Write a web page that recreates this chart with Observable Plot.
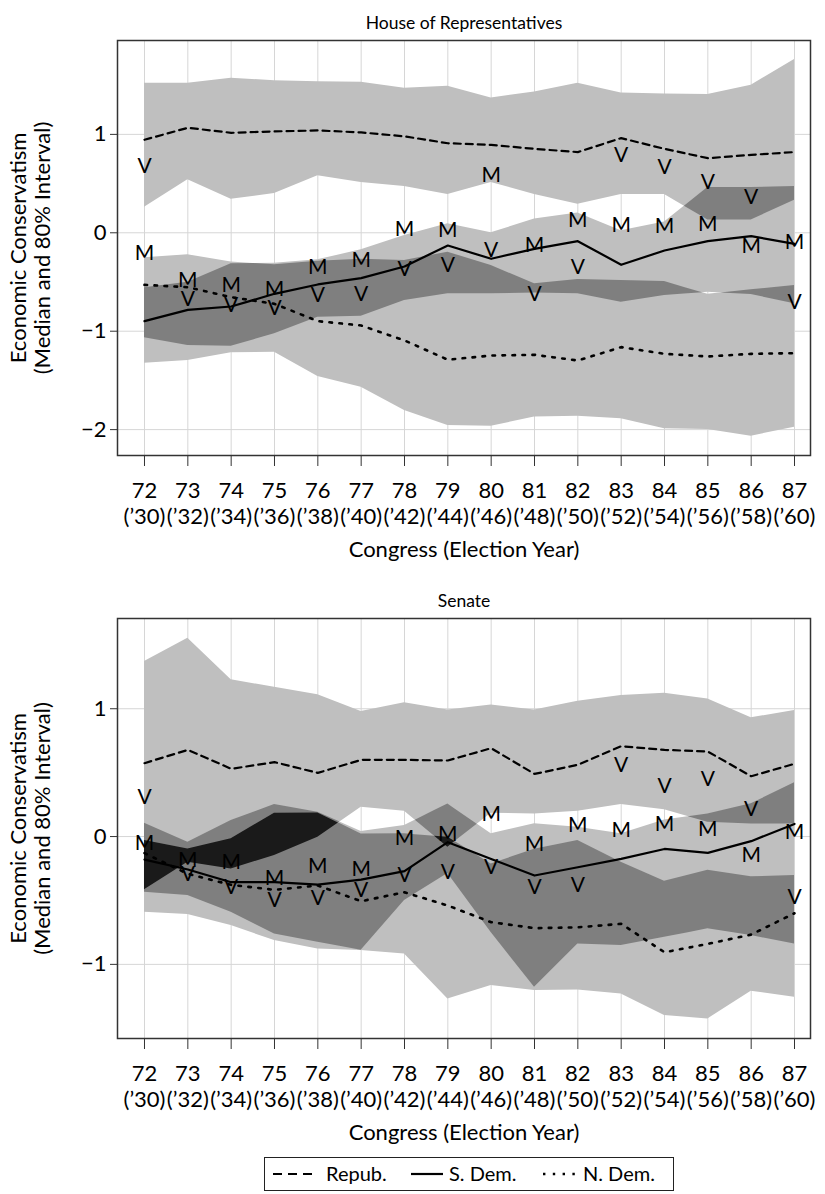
<!DOCTYPE html>
<html>
<head>
<meta charset="utf-8">
<script src="https://cdn.jsdelivr.net/npm/d3@7"></script>
<script src="https://cdn.jsdelivr.net/npm/@observablehq/plot@0.6"></script>
<style>
  html, body { margin: 0; padding: 0; background: #fff; }
  body { width: 825px; height: 1194px; overflow: hidden; position: relative; font-family: Lato, sans-serif; }
  #house, #senate { display: block; line-height: 0; }
  #legend { position: absolute; left: 264px; top: 1157px; width: 410px; height: 34px; border: 1.5px solid #222; box-sizing: border-box; }
  #legend .item { position: absolute; top: 0; height: 31px; line-height: 31px; font-size: 20px; color: #000; white-space: nowrap; }
  #legend svg { position: absolute; top: 0; }
</style>
</head>
<body>
<div id="house"></div>
<div id="senate"></div>
<div id="legend"></div>
<script>
// Congresses and their election years
const congresses = [72, 73, 74, 75, 76, 77, 78, 79, 80, 81, 82, 83, 84, 85, 86, 87];
const electionYears = ["’30", "’32", "’34", "’36", "’38", "’40", "’42", "’44", "’46", "’48", "’50", "’52", "’54", "’56", "’58", "’60"];

// House of Representatives: 80% interval bounds and medians
const houseRepHi  = [1.52, 1.52, 1.57, 1.545, 1.535, 1.53, 1.47, 1.49, 1.37, 1.43, 1.52, 1.42, 1.41, 1.405, 1.50, 1.76];
const houseRepLo  = [0.26, 0.54, 0.34, 0.40, 0.58, 0.51, 0.47, 0.39, 0.51, 0.39, 0.29, 0.39, 0.39, 0.13, 0.13, 0.33];
const houseRepMed = [0.945, 1.067, 1.016, 1.03, 1.04, 1.02, 0.98, 0.91, 0.893, 0.853, 0.82, 0.962, 0.853, 0.758, 0.792, 0.82];

const houseSDemHi  = [-0.559, -0.502, -0.315, -0.31, -0.275, -0.173, -0.027, 0.091, 0.0, 0.14, 0.20, 0.02, 0.11, 0.46, 0.46, 0.47];
const houseSDemLo  = [-1.067, -1.145, -1.152, -1.027, -0.857, -0.847, -0.688, -0.62, -0.62, -0.613, -0.62, -0.705, -0.637, -0.605, -0.627, -0.722];
const houseSDemMed = [-0.898, -0.783, -0.749, -0.62, -0.525, -0.461, -0.342, -0.129, -0.264, -0.163, -0.085, -0.325, -0.18, -0.085, -0.034, -0.112];

const houseNDemHi  = [-0.254, -0.224, -0.298, -0.325, -0.288, -0.268, -0.281, -0.197, -0.332, -0.518, -0.475, -0.484, -0.495, -0.625, -0.58, -0.535];
const houseNDemLo  = [-1.325, -1.298, -1.22, -1.213, -1.46, -1.569, -1.805, -1.958, -1.965, -1.873, -1.863, -1.89, -1.99, -2.0, -2.067, -1.975];
const houseNDemMed = [-0.529, -0.553, -0.654, -0.722, -0.898, -0.942, -1.094, -1.29, -1.247, -1.24, -1.298, -1.162, -1.23, -1.257, -1.23, -1.223];

// House: positions of the "M" and "V" markers
const houseM = [-0.213, -0.485, -0.536, -0.57, -0.35, -0.281, 0.04, 0.03, 0.582, -0.129, 0.125, 0.074, 0.064, 0.084, -0.139, -0.095];
const houseV = [0.674, -0.68, -0.739, -0.762, -0.637, -0.62, -0.366, -0.332, -0.18, -0.62, -0.35, 0.786, 0.667, 0.514, 0.356, -0.705];

// Senate: 80% interval bounds and medians
const senateRepHi  = [1.369, 1.552, 1.226, 1.168, 1.109, 0.978, 1.046, 0.991, 1.030, 0.991, 1.059, 1.103, 1.121, 1.077, 0.929, 0.986];
const senateRepLo  = [-0.417, -0.201, -0.253, -0.149, -0.005, 0.23, 0.198, -0.083, 0.182, 0.177, 0.198, 0.25, 0.209, 0.112, 0.099, 0.099];
const senateRepMed = [0.574, 0.678, 0.530, 0.582, 0.498, 0.6, 0.6, 0.595, 0.691, 0.49, 0.561, 0.707, 0.678, 0.665, 0.472, 0.569];

const senateSDemHi  = [0.104, -0.044, 0.125, 0.25, 0.19, 0.04, 0.086, 0.255, 0.021, 0.10, 0.073, 0.021, 0.13, 0.177, 0.256, 0.42];
const senateSDemLo  = [-0.436, -0.462, -0.592, -0.762, -0.827, -0.89, -0.50, -0.29, -0.75, -1.18, -0.84, -0.853, -0.788, -0.722, -0.775, -0.84];
const senateSDemMed = [-0.18, -0.258, -0.357, -0.357, -0.376, -0.337, -0.271, -0.044, -0.175, -0.305, -0.24, -0.175, -0.097, -0.128, -0.036, 0.099];

const senateNDemHi  = [-0.031, -0.097, -0.018, 0.183, 0.185, 0.02, 0.021, -0.005, -0.214, -0.1, -0.031, -0.201, -0.35, -0.263, -0.315, -0.305];
const senateNDemLo  = [-0.592, -0.61, -0.696, -0.814, -0.879, -0.892, -0.918, -1.27, -1.166, -1.205, -1.2, -1.231, -1.40, -1.427, -1.21, -1.257];
const senateNDemMed = [-0.13, -0.292, -0.378, -0.417, -0.383, -0.506, -0.436, -0.54, -0.67, -0.717, -0.71, -0.683, -0.905, -0.84, -0.767, -0.6];

// Senate: positions of the "M" and "V" markers
const senateM = [-0.05, -0.188, -0.201, -0.323, -0.235, -0.253, -0.01, 0.021, 0.172, -0.057, 0.086, 0.052, 0.099, 0.06, -0.149, 0.034];
const senateV = [0.308, -0.292, -0.397, -0.50, -0.48, -0.423, -0.305, -0.279, -0.24, -0.397, -0.383, 0.556, 0.391, 0.451, 0.217, -0.475];

// Shades: one interval, two overlapping, all three overlapping
const shadeOne = "#bfbfbf", shadeTwo = "#7f7f7f", shadeThree = "#1a1a1a";
const FONT = "Lato, 'Open Sans', sans-serif";

// Split each segment between congresses wherever two band edges cross,
// so that the max/min of the edges stay linear between the breakpoints.
function breakpoints(xs, edges) {
  const pts = [];
  for (let i = 0; i < xs.length - 1; i++) {
    const ts = new Set([0]);
    for (let a = 0; a < edges.length; a++) {
      for (let b = a + 1; b < edges.length; b++) {
        const d0 = edges[a][i] - edges[b][i];
        const d1 = edges[a][i + 1] - edges[b][i + 1];
        if (d0 * d1 < 0) ts.add(d0 / (d0 - d1));
      }
    }
    [...ts].sort((p, q) => p - q).forEach(t => pts.push([i, t]));
  }
  pts.push([xs.length - 2, 1]);
  return pts;
}
const lerp = (arr, [i, t]) => arr[i] + (arr[i + 1] - arr[i]) * t;

// Region shared by all of the given intervals (zero height where they do not meet)
function intersection(xs, bands, grid) {
  return grid.map(g => {
    const y1 = d3.max(bands, b => lerp(b.lo, g));
    const top = d3.min(bands, b => lerp(b.hi, g));
    return {x: lerp(xs, g), y1, y2: Math.max(y1, top)};
  });
}

const formatTick = d => (d < 0 ? "\u2212" : "") + Math.abs(d);

function panel({title, bands, medians, mPos, vPos, yDomain, yTicks, height, marginBottom}) {
  const grid = breakpoints(congresses, bands.flatMap(b => [b.lo, b.hi]));
  const pairs = [[0, 1], [0, 2], [1, 2]];
  const lineStyles = [
    {strokeDasharray: "7,5", strokeWidth: 2.2},
    {strokeWidth: 2.2},
    {strokeDasharray: "2.6,7.4", strokeWidth: 2.6}
  ];
  return Plot.plot({
    width: 825,
    height,
    marginLeft: 117,
    marginRight: 15,
    marginTop: 40,
    marginBottom,
    style: {fontFamily: FONT, fontSize: "22px", color: "#000", background: "#fff", overflow: "visible"},
    x: {domain: [71.377, 87.369]},
    y: {domain: yDomain},
    marks: [
      Plot.gridX(congresses, {stroke: "#d6d6d6", strokeOpacity: 1, strokeWidth: 1}),
      Plot.gridY(yTicks, {stroke: "#d6d6d6", strokeOpacity: 1, strokeWidth: 1}),
      ...bands.map(b => Plot.areaY(congresses, {x: congresses, y1: b.lo, y2: b.hi, fill: shadeOne})),
      ...pairs.map(([a, b]) => Plot.areaY(intersection(congresses, [bands[a], bands[b]], grid),
        {x: "x", y1: "y1", y2: "y2", fill: shadeTwo})),
      Plot.areaY(intersection(congresses, bands, grid), {x: "x", y1: "y1", y2: "y2", fill: shadeThree}),
      ...medians.map((m, k) => Plot.line(congresses, {x: congresses, y: m, stroke: "#000", ...lineStyles[k]})),
      Plot.text(congresses, {x: congresses, y: mPos, text: () => "M", fontSize: 21, fill: "#000"}),
      Plot.text(congresses, {x: congresses, y: vPos, text: () => "V", fontSize: 21, fill: "#000"}),
      Plot.frame({stroke: "#333", strokeWidth: 1.5}),
      Plot.axisY(yTicks, {tickSize: 7, tickPadding: 4, fontSize: 22, label: null, stroke: "#333", tickFormat: formatTick}),
      Plot.axisX(congresses, {tickSize: 11, tickFormat: () => "", label: null, stroke: "#333"}),
      Plot.text(congresses, {x: congresses, text: d => String(d), frameAnchor: "bottom", dy: 42, fontSize: 22}),
      Plot.text(congresses, {x: congresses, text: (d, i) => "(" + electionYears[i] + ")", frameAnchor: "bottom", dy: 68, fontSize: 22}),
      Plot.text(["Congress (Election Year)"], {frameAnchor: "bottom", dy: 101, fontSize: 22}),
      Plot.text(["Economic Conservatism\n(Median and 80% Interval)"], {frameAnchor: "left", textAnchor: "middle", dx: -87, rotate: -90, fontSize: 22, lineHeight: 1.1}),
      Plot.text([title], {frameAnchor: "top", dy: -24, fontSize: 17.5})
    ]
  });
}

document.getElementById("house").append(panel({
  title: "House of Representatives",
  bands: [
    {lo: houseRepLo, hi: houseRepHi},
    {lo: houseSDemLo, hi: houseSDemHi},
    {lo: houseNDemLo, hi: houseNDemHi}
  ],
  medians: [houseRepMed, houseSDemMed, houseNDemMed],
  mPos: houseM,
  vPos: houseV,
  yDomain: [-2.263, 1.954],
  yTicks: [1, 0, -1, -2],
  height: 578,
  marginBottom: 123
}));

document.getElementById("senate").append(panel({
  title: "Senate",
  bands: [
    {lo: senateRepLo, hi: senateRepHi},
    {lo: senateSDemLo, hi: senateSDemHi},
    {lo: senateNDemLo, hi: senateNDemHi}
  ],
  medians: [senateRepMed, senateSDemMed, senateNDemMed],
  mPos: senateM,
  vPos: senateV,
  yDomain: [-1.580, 1.706],
  yTicks: [1, 0, -1],
  height: 572,
  marginBottom: 112
}));

// Legend: line samples and party names
const legendItems = [
  {name: "Repub.", dash: "9,6", width: 2.2, x: 8, len: 39, tx: 61},
  {name: "S. Dem.", dash: null, width: 2.2, x: 146, len: 32, tx: 184},
  {name: "N. Dem.", dash: "2.4,7.4", width: 2.4, x: 278, len: 32, tx: 318}
];
const legend = document.getElementById("legend");
for (const it of legendItems) {
  const ns = "http://www.w3.org/2000/svg";
  const svg = document.createElementNS(ns, "svg");
  svg.setAttribute("width", it.len);
  svg.setAttribute("height", 31);
  svg.style.left = it.x + "px";
  const ln = document.createElementNS(ns, "line");
  ln.setAttribute("x1", 0); ln.setAttribute("x2", it.len);
  ln.setAttribute("y1", 16); ln.setAttribute("y2", 16);
  ln.setAttribute("stroke", "#000");
  ln.setAttribute("stroke-width", it.width);
  if (it.dash) ln.setAttribute("stroke-dasharray", it.dash);
  svg.append(ln);
  legend.append(svg);
  const label = document.createElement("div");
  label.className = "item";
  label.style.left = it.tx + "px";
  label.textContent = it.name;
  legend.append(label);
}
</script>
</body>
</html>
